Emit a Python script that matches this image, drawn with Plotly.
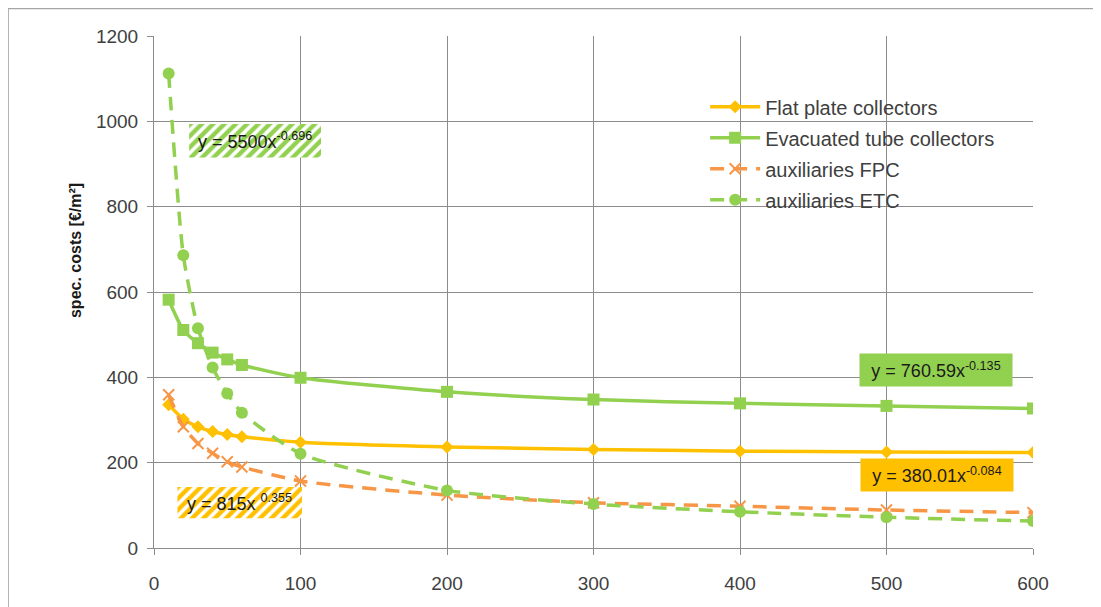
import plotly.graph_objects as go

# ---- data ----
x_vals = [10, 20, 30, 40, 50, 60, 100, 200, 300, 400, 500, 600]
fpc = [336, 302, 284, 273, 266, 261, 248, 237, 231, 227, 225, 224]
etc = [582, 511, 480, 458, 442, 429, 399, 366, 348, 339, 333, 327]
aux_fpc = [359, 284, 245, 222, 202, 190, 157, 124, 106, 98, 89, 83]
aux_etc = [1112, 686, 515, 423, 362, 317, 221, 135, 103, 85, 72, 63]

x_ticks = [0, 100, 200, 300, 400, 500, 600]
y_ticks = [0, 200, 400, 600, 800, 1000, 1200]

GREEN = "#92D050"
YELLOW = "#FFC000"
ORANGE = "#F79646"
TXT = "#404040"
GRID = "#8c8c8c"
FONT = "Liberation Sans"

fig = go.Figure()

# hatched label boxes (decoration behind the curves)
hatch_boxes = [
    ([24, 114, 114, 24, 24], [994, 994, 915, 915, 994], GREEN),
    ([16, 101, 101, 16, 16], [143, 143, 70, 70, 143], YELLOW),
]
for bx, by, col in hatch_boxes:
    fig.add_trace(go.Scatter(
        x=bx, y=by, mode="lines", fill="toself", line=dict(width=0),
        fillcolor="white",
        fillpattern=dict(shape="/", fgcolor=col, bgcolor="white", size=8,
                         solidity=0.55, fgopacity=1, fillmode="replace"),
        showlegend=False, hoverinfo="skip"))

fig.add_trace(go.Scatter(
    x=x_vals, y=fpc, name="Flat plate collectors", mode="lines+markers",
    line=dict(color=YELLOW, width=3.5, shape="spline", smoothing=0.6),
    marker=dict(symbol="diamond", size=10, color=YELLOW),
    legendgroup="a"))
fig.add_trace(go.Scatter(
    x=x_vals, y=etc, name="Evacuated tube collectors", mode="lines+markers",
    line=dict(color=GREEN, width=3.5, shape="spline", smoothing=0.6),
    marker=dict(symbol="square", size=12, color=GREEN),
    legendgroup="b"))
fig.add_trace(go.Scatter(
    x=x_vals, y=aux_fpc, name="auxiliaries FPC", mode="lines+markers",
    line=dict(color=ORANGE, width=3.5, dash="14px,9px", shape="spline", smoothing=0.6),
    marker=dict(symbol="x-thin", size=11, color=ORANGE, line=dict(color=ORANGE, width=2)),
    legendgroup="c"))
fig.add_trace(go.Scatter(
    x=x_vals, y=aux_etc, name="auxiliaries ETC", mode="lines+markers",
    line=dict(color=GREEN, width=3.5, dash="14px,9px", shape="spline", smoothing=0.6),
    marker=dict(symbol="circle", size=12, color=GREEN),
    legendgroup="d"))

annos = [
    dict(x=69, y=955, text="y = 5500x<sup>-0.696</sup>", bg=None),
    dict(x=58.5, y=106, text="y = 815x <sup>0.355</sup>", bg=None),
    dict(x=534, y=417, text="y = 760.59x<sup>-0.135</sup>", bg=GREEN),
    dict(x=534.5, y=172, text="y = 380.01x<sup>-0.084</sup>", bg=YELLOW),
]
for a in annos:
    kw = dict(bgcolor=a["bg"], width=150, height=30) if a["bg"] else {}
    fig.add_annotation(x=a["x"], y=a["y"], xref="x", yref="y", text=a["text"],
                       showarrow=False,
                       font=dict(family=FONT, size=18, color="#1a1a1a"),
                       borderpad=1, **kw)

# y-axis title
fig.add_annotation(x=0, y=0.58, xref="paper", yref="paper", xshift=-79,
                   xanchor="center", yanchor="middle",
                   text="<b>spec. costs [€/m²]</b>", textangle=-90, showarrow=False,
                   font=dict(family=FONT, size=16, color="#1a1a1a"))

# outer frame
fig.add_shape(type="rect", xref="paper", yref="paper", x0=-0.166, x1=1.3, y0=-0.3, y1=1.0535,
              line=dict(color="#a6a6a6", width=1.5), layer="below")

fig.update_layout(
    width=1101, height=607,
    margin=dict(l=146, r=76, t=28, b=67),
    paper_bgcolor="white", plot_bgcolor="white",
    font=dict(family=FONT, size=19, color=TXT),
    legend=dict(x=0.627, y=0.9, xanchor="left", yanchor="top",
                font=dict(family=FONT, size=20, color=TXT),
                traceorder="grouped", tracegroupgap=2, itemwidth=50,
                bgcolor="rgba(0,0,0,0)"),
    xaxis=dict(range=[0, 600], tickvals=x_ticks, ticktext=[str(v) for v in x_ticks],
               showgrid=True, gridcolor=GRID, gridwidth=1, zeroline=False,
               showline=True, linecolor=GRID, linewidth=1,
               ticks="outside", ticklen=6, tickcolor=GRID, ticklabelstandoff=12,
               tickfont=dict(family=FONT, size=19, color=TXT)),
    yaxis=dict(range=[0, 1200], tickvals=y_ticks, ticktext=[str(v) for v in y_ticks],
               showgrid=True, gridcolor=GRID, gridwidth=1, zeroline=False,
               showline=True, linecolor=GRID, linewidth=1,
               ticks="outside", ticklen=6, tickcolor=GRID, ticklabelstandoff=5,
               tickfont=dict(family=FONT, size=19, color=TXT)),
)

fig.write_html("out.html")
